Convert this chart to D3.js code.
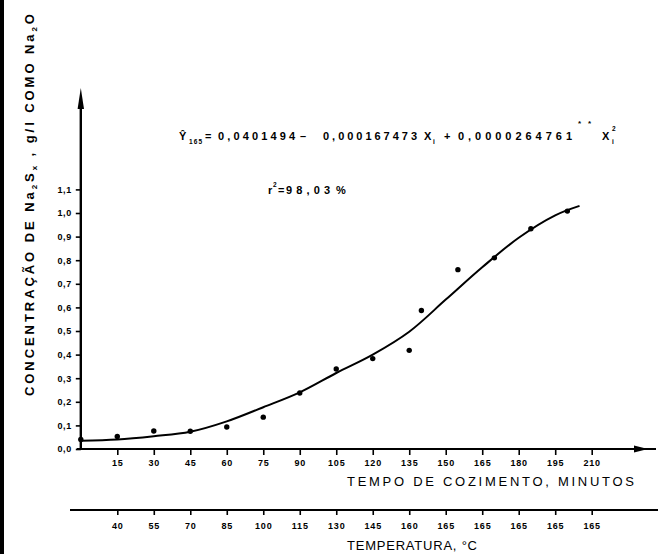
<!DOCTYPE html>
<html>
<head>
<meta charset="utf-8">
<script src="https://cdn.jsdelivr.net/npm/d3@7/dist/d3.min.js"></script>
<style>
  body { margin: 0; background: #fff; }
  svg { display: block; }
  text { fill: #000; }
</style>
</head>
<body>
<svg id="chart" width="658" height="554"></svg>
<script>
// Measured Na2Sx concentration (g/l as Na2O) against cooking time (minutes)
const pointTimes  = [0, 15, 30, 45, 60, 75, 90, 105, 120, 135, 140, 155, 170, 185, 200];
const pointValues = [0.04, 0.053, 0.076, 0.075, 0.093, 0.135, 0.237, 0.339, 0.383, 0.418, 0.587, 0.76, 0.81, 0.933, 1.008];

// Fitted curve, traced point by point
const curveTimes  = [0, 15, 30, 45, 60, 75, 90, 105, 120, 135, 150, 165, 180, 195, 205];
const curveValues = [0.035, 0.04, 0.054, 0.073, 0.117, 0.177, 0.24, 0.322, 0.40, 0.497, 0.633, 0.77, 0.895, 0.99, 1.03];

// Axis ticks
const timeTicks  = [15, 30, 45, 60, 75, 90, 105, 120, 135, 150, 165, 180, 195, 210];
const tempLabels = ["40", "55", "70", "85", "100", "115", "130", "145", "160", "165", "165", "165", "165", "165"];
const yTicks     = [0, 0.1, 0.2, 0.3, 0.4, 0.5, 0.6, 0.7, 0.8, 0.9, 1.0, 1.1];

const svg = d3.select("#chart");
const FONT = "'Liberation Sans', Arial, sans-serif";

const x = d3.scaleLinear().domain([0, 210]).range([80.8, 591.7]);
const y = d3.scaleLinear().domain([0, 1.1]).range([449, 189.4]);

const x0 = x(0), y0 = y(0);
const tempY = 510;

// scanned page edge
svg.append("rect").attr("x", 0).attr("y", 0).attr("width", 4).attr("height", 554).attr("fill", "#000");

// ---- y axis ----
const yAxis = d3.axisLeft(y)
  .tickValues(yTicks)
  .tickSize(5)
  .tickPadding(4)
  .tickFormat(d => d3.format(".1f")(d).replace(".", ","));
const gy = svg.append("g").attr("transform", `translate(${x0},0)`).call(yAxis);
gy.select(".domain").remove();
gy.selectAll(".tick line").attr("stroke", "#000").attr("stroke-width", 1.6);
gy.selectAll(".tick text")
  .attr("font-family", FONT).attr("font-weight", "bold").attr("font-size", 9)
  .attr("letter-spacing", 0.6);

svg.append("line")
  .attr("x1", x0).attr("x2", x0).attr("y1", y0).attr("y2", 100)
  .attr("stroke", "#000").attr("stroke-width", 2.4);
svg.append("path")
  .attr("d", `M${x0},88 L${x0 + 3.2},109 L${x0 - 3.2},109 Z`)
  .attr("fill", "#000");

// ---- time axis ----
const xAxis = d3.axisBottom(x)
  .tickValues(timeTicks)
  .tickSize(6)
  .tickPadding(5)
  .tickFormat(d3.format("d"));
const gx = svg.append("g").attr("transform", `translate(0,${y0})`).call(xAxis);
gx.select(".domain").remove();
gx.selectAll(".tick line").attr("stroke", "#000").attr("stroke-width", 1.6);
gx.selectAll(".tick text")
  .attr("font-family", FONT).attr("font-weight", "bold").attr("font-size", 9)
  .attr("letter-spacing", 0.8);

svg.append("line")
  .attr("x1", x0 - 4).attr("x2", 656).attr("y1", y0).attr("y2", y0)
  .attr("stroke", "#000").attr("stroke-width", 1.8);
svg.append("path")
  .attr("d", `M648,${y0} L634,${y0 - 3.5} L634,${y0 + 3.5} Z`)
  .attr("fill", "#000");

svg.append("text")
  .attr("x", 347).attr("y", 486)
  .attr("font-family", FONT).attr("font-size", 13)
  .attr("textLength", 287).attr("lengthAdjust", "spacing")
  .text("TEMPO  DE  COZIMENTO,  MINUTOS");

// ---- temperature axis ----
const tAxis = d3.axisBottom(x)
  .tickValues(timeTicks)
  .tickSize(5)
  .tickPadding(8)
  .tickFormat((d, i) => tempLabels[i]);
const gt = svg.append("g").attr("transform", `translate(0,${tempY})`).call(tAxis);
gt.select(".domain").remove();
gt.selectAll(".tick line").attr("stroke", "#000").attr("stroke-width", 1.6);
gt.selectAll(".tick text")
  .attr("font-family", FONT).attr("font-weight", "bold").attr("font-size", 9)
  .attr("letter-spacing", 0.8);

svg.append("line")
  .attr("x1", 70).attr("x2", 658).attr("y1", tempY).attr("y2", tempY)
  .attr("stroke", "#000").attr("stroke-width", 1.8);

svg.append("text")
  .attr("x", 347).attr("y", 550)
  .attr("font-family", FONT).attr("font-size", 13)
  .attr("textLength", 130).attr("lengthAdjust", "spacing")
  .text("TEMPERATURA,   °C");

// ---- y title (rotated, reads bottom to top) ----
const yt = svg.append("text")
  .attr("transform", "translate(34,396) rotate(-90)")
  .attr("font-family", FONT).attr("font-weight", "bold").attr("font-size", 13)
  .attr("textLength", 382).attr("lengthAdjust", "spacing");
yt.append("tspan").text("CONCENTRAÇÃO   DE   Na");
yt.append("tspan").attr("font-size", 8).attr("dy", 3).text("2");
yt.append("tspan").attr("dy", -3).text("S");
yt.append("tspan").attr("font-size", 8).attr("dy", 3).text("x");
yt.append("tspan").attr("dy", -3).text(" ,   g/l   COMO   Na");
yt.append("tspan").attr("font-size", 8).attr("dy", 3).text("2");
yt.append("tspan").attr("dy", -3).text("O");

// ---- fitted curve ----
const line = d3.line()
  .x((d, i) => x(curveTimes[i]))
  .y((d, i) => y(curveValues[i]))
  .curve(d3.curveCatmullRom);
svg.append("path")
  .datum(curveValues)
  .attr("d", line)
  .attr("fill", "none").attr("stroke", "#000").attr("stroke-width", 2);

// ---- data points ----
svg.append("g").selectAll("circle")
  .data(pointValues)
  .join("circle")
  .attr("cx", (d, i) => x(pointTimes[i]))
  .attr("cy", d => y(d))
  .attr("r", 2.7)
  .attr("fill", "#000");

// ---- regression equation, laid out piece by piece ----
const EQ_BASE = 140;
const eqPieces = [
  // [text, x, width, size, dy]
  ["Ŷ",            179, 9,   11,  0],
  ["165",          189, 13,  6.5, 4],
  ["=",            205, 8,   11,  0],
  ["0,0401494",    218, 77,  11,  0],
  ["–",            300, 9,   11,  0],
  ["0,000167473",  323, 94,  11,  0],
  ["X",            424, 8,   11,  0],
  ["i",            433, 3,   6.5, 4],
  ["+",            444, 9,   11,  0],
  ["0,0000264761", 458, 114, 11,  0],
  ["**",           578, 13,  8,   -14],
  ["X",            602, 9,   11,  0],
  ["2",            612, 4,   6.5, -9],
  ["i",            612, 3,   6.5, 4]
];
const eq = svg.append("g")
  .attr("font-family", FONT).attr("font-weight", "bold");
eqPieces.forEach(([t, px, w, s, dy]) => {
  eq.append("text")
    .attr("x", px).attr("y", EQ_BASE + dy)
    .attr("font-size", s)
    .attr("textLength", w).attr("lengthAdjust", "spacing")
    .text(t);
});

const r2 = svg.append("g")
  .attr("font-family", FONT).attr("font-weight", "bold");
r2.append("text").attr("x", 268).attr("y", 194).attr("font-size", 11).text("r");
r2.append("text").attr("x", 273).attr("y", 187).attr("font-size", 6.5).text("2");
r2.append("text").attr("x", 278).attr("y", 194).attr("font-size", 11).text("=");
r2.append("text").attr("x", 286).attr("y", 194).attr("font-size", 11)
  .attr("textLength", 44).attr("lengthAdjust", "spacing").text("98,03");
r2.append("text").attr("x", 336).attr("y", 194).attr("font-size", 11).text("%");
</script>
</body>
</html>
